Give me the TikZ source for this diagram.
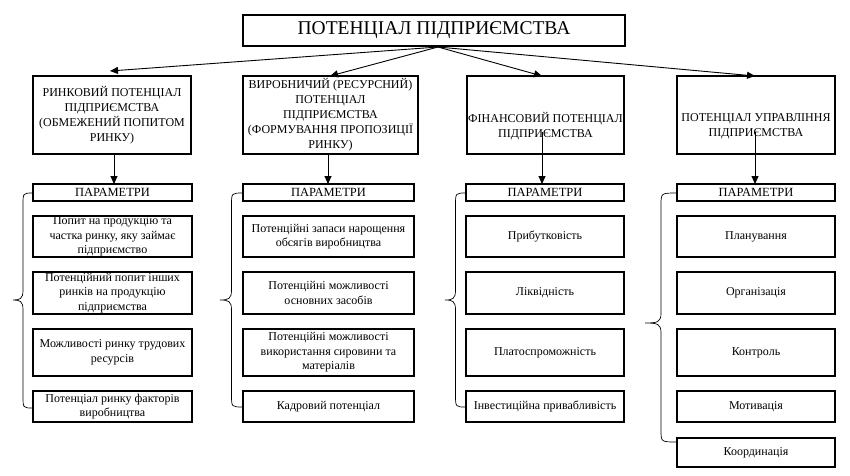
\documentclass[tikz,border=0pt]{standalone}
\usepackage{fontspec}
\setmainfont{Liberation Serif}
\usetikzlibrary{arrows.meta}
\tikzset{
  bx/.style={draw, line width=1.7pt, align=center, inner sep=0pt, font=\fontsize{12}{15}\selectfont},
  hd/.style={align=center, inner sep=0pt, font=\fontsize{12}{15}\selectfont},
  it/.style={draw, line width=1.6pt, align=center, inner sep=0pt, font=\fontsize{12}{14.5}\selectfont},
  pr/.style={draw, line width=1.6pt, align=center, inner sep=0pt, minimum height=17pt, font=\fontsize{12.5}{13}\selectfont},
  ar/.style={line width=0.9pt, -{Triangle[length=8pt,width=7pt]}},
  brc/.style={line width=0.7pt}
}
\newcommand\mybrace[5]{%
  \pgfmathsetmacro\mx{(#1+#2)/2}%
  \draw[brc] (#1,#3) .. controls (\mx,#3) .. (\mx,#3+12) -- (\mx,#4-10) .. controls (\mx,#4-1) and (\mx-3,#4) .. (#2,#4) .. controls (\mx-3,#4) and (\mx,#4+1) .. (\mx,#4+10) -- (\mx,#5-12) .. controls (\mx,#5) .. (#1,#5);}
\begin{document}
\begin{tikzpicture}[x=1pt,y=-1pt]
\useasboundingbox (0,0) rectangle (850,475);
\fill[white] (0,0) rectangle (850,475);
% top
\node[draw, line width=1.9pt, minimum width=382pt, minimum height=31pt, inner sep=0pt, font=\fontsize{19.5}{21}\selectfont] (top) at (434,30.5) {ПОТЕНЦІАЛ ПІДПРИЄМСТВА};
\coordinate (src) at (438,47);
% headers
\node[bx, minimum width=158pt, minimum height=78pt] (b1) at (112,115) {РИНКОВИЙ ПОТЕНЦІАЛ\\ПІДПРИЄМСТВА\\(ОБМЕЖЕНИЙ ПОПИТОМ\\РИНКУ)};
\node[bx, minimum width=175pt, minimum height=78pt] (b2) at (330.5,115) {ВИРОБНИЧИЙ (РЕСУРСНИЙ)\\ПОТЕНЦІАЛ\\ПІДПРИЄМСТВА\\(ФОРМУВАННЯ ПРОПОЗИЦІЇ\\РИНКУ)};
\node[bx, minimum width=157pt, minimum height=78pt] (b3) at (545.5,115) {};
\node[hd] (t3) at (545.5,126) {ФІНАНСОВИЙ ПОТЕНЦІАЛ\\ПІДПРИЄМСТВА};
\node[bx, minimum width=158pt, minimum height=78pt] (b4) at (756,115) {};
\node[hd] (t4) at (756,126) {ПОТЕНЦІАЛ УПРАВЛІННЯ\\ПІДПРИЄМСТВА};
\coordinate (a1) at (110,71);
\draw[ar] (src) -- (a1);
\draw[ar] (src) -- (330,76);
\draw[ar] (src) -- (542,76);
\draw[ar] (src) -- (755,76);
% params
\node[pr, minimum width=159pt] (p1) at (112.5,192.5) {ПАРАМЕТРИ};
\node[pr, minimum width=171pt] (p2) at (328.5,192.5) {ПАРАМЕТРИ};
\node[pr, minimum width=158pt] (p3) at (545,192.5) {ПАРАМЕТРИ};
\node[pr, minimum width=158pt] (p4) at (756,192.5) {ПАРАМЕТРИ};
\draw[ar] (114,154) -- (114,184);
\draw[ar] (328,154) -- (328,184);
\coordinate (s3) at (542,132);
\coordinate (s4) at (755,132);
\draw[ar] (s3) -- (542,184);
\draw[ar] (s4) -- (755,184);
% column 1
\node[it, minimum width=159pt, minimum height=41pt] (c11) at (112.5,236.5) {Попит на продукцію та\\частка ринку, яку займає\\підприємство};
\node[it, minimum width=159pt, minimum height=42pt] (c12) at (112.5,293) {Потенційний попит інших\\ринків на продукцію\\підприємства};
\node[it, minimum width=159pt, minimum height=47pt] (c13) at (112.5,352.5) {Можливості ринку трудових\\ресурсів};
\node[it, minimum width=159pt, minimum height=31pt] (c14) at (112.5,406.5) {Потенціал ринку факторів\\виробництва};
% column 2
\node[it, minimum width=171pt, minimum height=41pt] (c21) at (328.5,236.5) {Потенційні запаси нарощення\\обсягів виробництва};
\node[it, minimum width=171pt, minimum height=42pt] (c22) at (328.5,293) {Потенційні можливості\\основних засобів};
\node[it, minimum width=171pt, minimum height=47pt] (c23) at (328.5,352.5) {Потенційні можливості\\використання сировини та\\матеріалів};
\node[it, minimum width=171pt, minimum height=31pt] (c24) at (328.5,406.5) {Кадровий потенціал};
% column 3
\node[it, minimum width=158pt, minimum height=41pt] (c31) at (545,236.5) {Прибутковість};
\node[it, minimum width=158pt, minimum height=42pt] (c32) at (545,293) {Ліквідність};
\node[it, minimum width=158pt, minimum height=47pt] (c33) at (545,352.5) {Платоспроможність};
\node[it, minimum width=158pt, minimum height=31pt] (c34) at (545,406.5) {Інвестиційна привабливість};
% column 4
\node[it, minimum width=158pt, minimum height=41pt] (c41) at (756,236.5) {Планування};
\node[it, minimum width=158pt, minimum height=42pt] (c42) at (756,293) {Організація};
\node[it, minimum width=158pt, minimum height=47pt] (c43) at (756,352.5) {Контроль};
\node[it, minimum width=158pt, minimum height=31pt] (c44) at (756,406.5) {Мотивація};
\node[it, minimum width=158pt, minimum height=29pt] (c45) at (756,452.5) {Координація};
% braces
\mybrace{33}{13}{193}{300}{408}
\mybrace{243}{220}{193}{300}{407}
\mybrace{466}{445}{193}{300}{407}
\mybrace{677}{645}{193}{323}{442}
\end{tikzpicture}
\end{document}
